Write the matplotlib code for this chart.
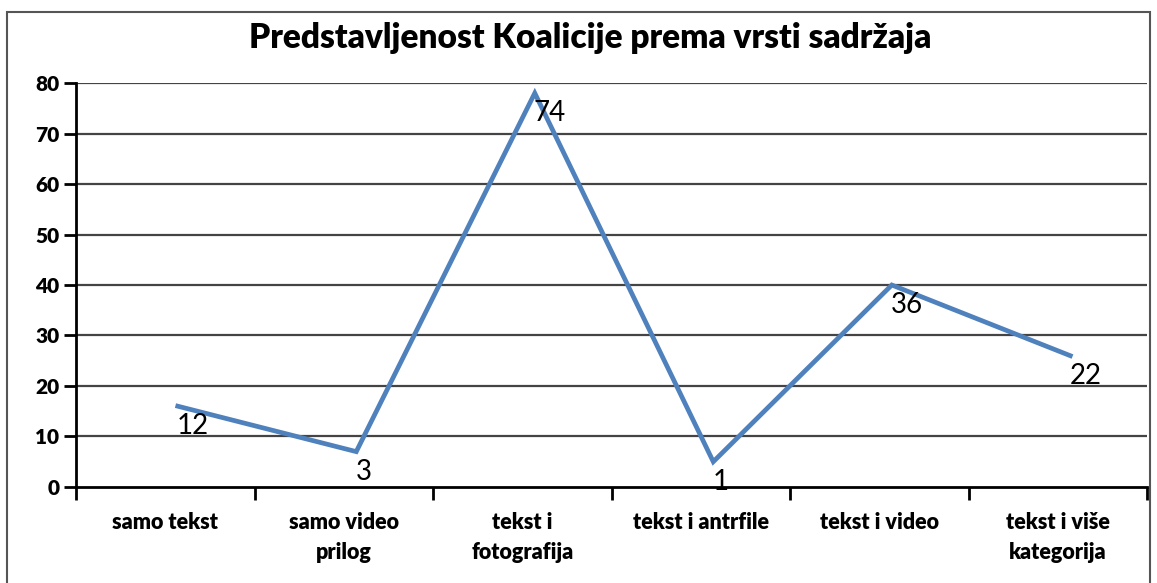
import matplotlib
matplotlib.use("Agg")
import matplotlib.pyplot as plt
from matplotlib.patches import Rectangle

categories = ["samo tekst", "samo video\nprilog", "tekst i\nfotografija",
              "tekst i antrfile", "tekst i video", "tekst i više\nkategorija"]
line_values = [16, 7, 78, 5, 40, 26]          # where the line is drawn in the picture
label_values = [12, 3, 74, 1, 36, 22]         # data labels shown
yticks = [0, 10, 20, 30, 40, 50, 60, 70, 80]
title = "Predstavljenost Koalicije prema vrsti sadržaja"

plt.rcParams['font.family'] = ['Lato', 'DejaVu Sans']

fig = plt.figure(figsize=(11.57, 5.83), dpi=100)
fig.patches.append(Rectangle((0.006, -0.02), 0.988, 1.0, transform=fig.transFigure,
                             fill=False, edgecolor='#555555', linewidth=1.5))
ax = fig.add_axes([0.0657, 0.1647, 0.9257, 0.6929])

x = [i + 0.07 for i in range(len(categories))]
ax.plot(x, line_values, color='#4F81BD', linewidth=3.4, solid_joinstyle='miter')
for xi, lv in zip(x, label_values):
    ax.text(xi - 0.005, lv, str(lv), ha='left', va='center', fontsize=20, color='black')

ax.set_xlim(-0.5, len(categories) - 0.5)
ax.set_ylim(0, 80)
ax.set_yticks(yticks)
ax.set_yticklabels([str(v) for v in yticks], fontsize=15, fontweight='heavy')
ax.set_xticks([i - 0.5 for i in range(len(categories) + 1)])
ax.set_xticklabels([])
ax.set_xticks(range(len(categories)), minor=True)
ax.set_xticklabels(categories, minor=True, fontsize=15.5, fontweight='heavy', linespacing=1.55)
ax.tick_params(axis='x', which='minor', length=0, pad=18)
ax.tick_params(axis='x', which='major', length=9, width=2, direction='out')
ax.tick_params(axis='y', length=9, width=2, direction='out', pad=3)

for v in yticks[1:]:
    ax.axhline(v, color='#444444', linewidth=1.6, zorder=0)
ax.spines['top'].set_visible(False)
ax.spines['right'].set_visible(False)
ax.spines['left'].set_linewidth(2)
ax.spines['bottom'].set_linewidth(2)

fig.text(0.51, 0.935, title, ha='center', va='center', fontsize=24, fontweight='heavy')

fig.savefig("out.png", dpi=100)
